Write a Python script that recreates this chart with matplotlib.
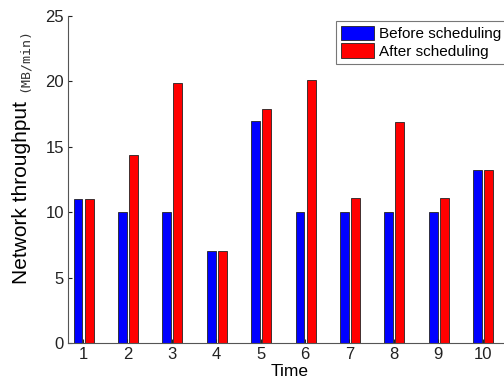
import matplotlib
matplotlib.use("Agg")
import matplotlib.pyplot as plt
import numpy as np

times = [1, 2, 3, 4, 5, 6, 7, 8, 9, 10]
before = [11, 10, 10, 7, 17, 10, 10, 10, 10, 13.2]
after = [11, 14.4, 19.9, 7, 17.9, 20.1, 11.1, 16.9, 11.1, 13.2]

plt.rcParams['font.family'] = ['Liberation Sans', 'DejaVu Sans']

W, H = 504, 386
fig = plt.figure(figsize=(W/100, H/100), dpi=100)
ax = fig.add_axes([68/W, 1-343/H, 444/W, (343-16)/H])

x = np.array(times)
w = 0.2
ax.bar(x - 0.115, before, width=w, color='#0000ff', edgecolor='#222222', linewidth=0.6, label='Before scheduling')
ax.bar(x + 0.135, after, width=w, color='#ff0000', edgecolor='#222222', linewidth=0.6, label='After scheduling')

ax.set_xlim(0.66, 10.66)
ax.set_ylim(0, 25)
ax.set_xticks(times)
ax.set_yticks([0, 5, 10, 15, 20, 25])
ax.tick_params(direction='in', length=3, labelsize=12, colors='#222222', pad=3)
for s in ['top', 'right']:
    ax.spines[s].set_visible(False)
for s in ['left', 'bottom']:
    ax.spines[s].set_color('#555555')
    ax.spines[s].set_linewidth(0.8)

ax.set_xlabel('Time', fontsize=12.5, labelpad=1)

fig.text(22/W, 1-193/H, 'Network throughput', rotation=90, fontsize=15,
         ha='center', va='center')
fig.text(24/W, 1-60/H, '(MB/min)', rotation=90, fontsize=9.5,
         family=['DejaVu Sans Mono'], ha='center', va='center', color='#333333')

leg = ax.legend(loc='upper left', bbox_to_anchor=(336/W, 1-21/H), bbox_transform=fig.transFigure,
                fontsize=11, frameon=True, fancybox=False, handlelength=2.2, handleheight=1.1,
                handletextpad=0.3, borderpad=0.3, labelspacing=0.15, borderaxespad=0)
leg.get_frame().set_edgecolor('#555555')
leg.get_frame().set_linewidth(0.8)

fig.savefig('out.png', dpi=100)
